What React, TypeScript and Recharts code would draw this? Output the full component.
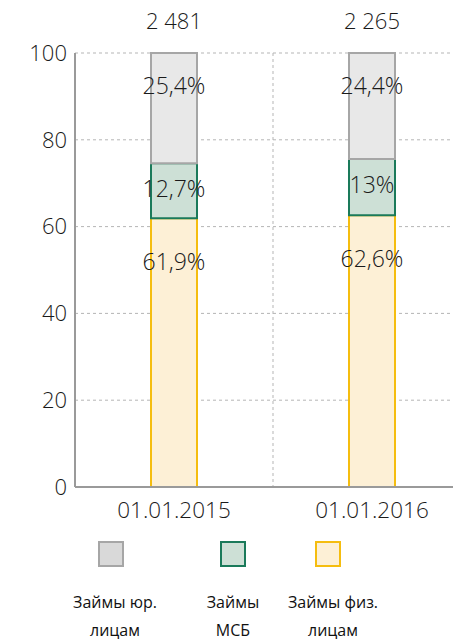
import React from 'react';
import { BarChart, Bar, XAxis, YAxis, CartesianGrid, LabelList } from 'recharts';

const categories = ['01.01.2015', '01.01.2016'];
const fizShare = [61.9, 62.6];
const msbShare = [12.7, 13];
const yurShare = [25.4, 24.4];
const totals = ['2 481', '2 265'];
const yTicks = [0, 20, 40, 60, 80, 100];

const legendItems = [
  { lines: ['Займы юр.', 'лицам'], fill: '#d9d9d9', stroke: '#a6a6a6' },
  { lines: ['Займы', 'МСБ'], fill: '#cde0d6', stroke: '#1a7a5a' },
  { lines: ['Займы физ.', 'лицам'], fill: '#fdf0d6', stroke: '#f5bd0f' },
];

const data = categories.map((name, i) => ({
  name,
  fiz: fizShare[i],
  msb: msbShare[i],
  yur: yurShare[i],
  total: totals[i],
}));

const FONT = "'Open Sans', 'Noto Sans', sans-serif";
const INK = '#1a1a1a';
const fmt = (v: number) => `${String(v).replace('.', ',')}%`;

// labels sit near the top of each segment, like in the source
const pctLabel = (dy: (h: number) => number) => (props: any) => {
  const { x, y, width, height, value } = props;
  return (
    <text
      x={x + width / 2}
      y={y + dy(height)}
      textAnchor="middle"
      dominantBaseline="central"
      fontFamily={FONT}
      fontWeight={300}
      fontSize={23}
      fill={INK}
    >
      {fmt(value)}
    </text>
  );
};

const totalLabel = (props: any) => {
  const { x, y, width, value } = props;
  return (
    <text
      x={x + width / 2}
      y={y - 33}
      textAnchor="middle"
      dominantBaseline="central"
      fontFamily={FONT}
      fontWeight={300}
      fontSize={22}
      fill={INK}
    >
      {value}
    </text>
  );
};

export default function App() {
  return (
    <div style={{ position: 'absolute', left: 0, top: 0, width: 453, height: 641, overflow: 'hidden', background: '#fff' }}>
      <BarChart
        width={490}
        height={641}
        data={data}
        margin={{ top: 53, right: 19, bottom: 124, left: 0 }}
        barSize={46}
      >
        <CartesianGrid
          stroke="#b5b5b5"
          strokeDasharray="3 3"
          verticalCoordinatesGenerator={({ offset }: any) => [offset.left + offset.width / 2]}
        />
        <XAxis
          dataKey="name"
          height={30}
          tickLine={false}
          axisLine={{ stroke: '#9a9a9a', strokeWidth: 2 }}
          tick={{ fontFamily: FONT, fontWeight: 300, fontSize: 22.5, fill: INK }}
          tickMargin={9}
        />
        <YAxis
          width={75}
          domain={[0, 100]}
          ticks={yTicks}
          tickLine={false}
          tickSize={0}
          tickMargin={8}
          axisLine={{ stroke: '#9a9a9a', strokeWidth: 2 }}
          tick={{ fontFamily: FONT, fontWeight: 300, fontSize: 22, fill: INK }}
        />
        <Bar dataKey="fiz" stackId="a" fill="#fdf0d6" stroke="#f5bd0f" strokeWidth={2} isAnimationActive={false}>
          <LabelList dataKey="fiz" content={pctLabel(() => 43)} />
        </Bar>
        <Bar dataKey="msb" stackId="a" fill="#cde0d6" stroke="#1a7a5a" strokeWidth={2} isAnimationActive={false}>
          <LabelList dataKey="msb" content={pctLabel((h) => h / 2 - 3)} />
        </Bar>
        <Bar dataKey="yur" stackId="a" fill="#e8e8e8" stroke="#a6a6a6" strokeWidth={2} isAnimationActive={false}>
          <LabelList dataKey="yur" content={pctLabel(() => 32)} />
          <LabelList dataKey="total" content={totalLabel} />
        </Bar>
      </BarChart>
      {legendItems.map((item, i) => (
        <div key={i} style={{ position: 'absolute', top: 541, left: [98, 220, 315][i], width: 26, height: 26 }}>
          <div style={{ width: 22, height: 22, background: item.fill, border: `2px solid ${item.stroke}` }} />
        </div>
      ))}
      {legendItems.map((item, i) => (
        <div
          key={'t' + i}
          style={{
            position: 'absolute',
            top: 588,
            left: [115, 233, 333][i] - 60,
            width: 120,
            textAlign: 'center',
            fontFamily: FONT,
            fontSize: 16,
            lineHeight: '28px',
            color: '#111',
          }}
        >
          {item.lines[0]}
          <br />
          {item.lines[1]}
        </div>
      ))}
    </div>
  );
}
